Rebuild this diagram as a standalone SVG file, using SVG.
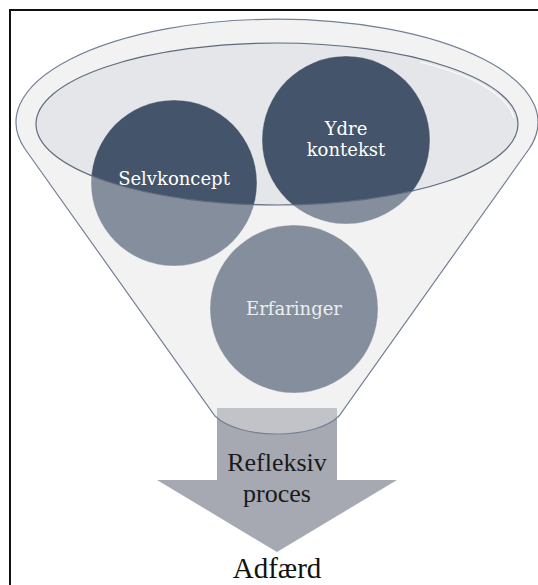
<svg xmlns="http://www.w3.org/2000/svg" width="538" height="585" viewBox="0 0 538 585">
  <style>
    .frame { stroke: #111111; stroke-width: 2; fill: none; }
    .funnel-base { fill: #f2f2f2; }
    .funnel-glass { fill: #f2f2f2; fill-opacity: 0.37; fill-rule: evenodd; }
    .funnel-line { fill: none; stroke: #748095; stroke-width: 1.2; }
    .mouth { fill: #e5e6e9; }
    .mouth-line { fill: none; stroke: #5f6a7c; stroke-width: 1.2; }
    .ball { fill: #44546a; stroke: #ffffff; stroke-opacity: 0.35; stroke-width: 1; }
    .ball-label { font-family: "DejaVu Serif", "Liberation Serif", serif; font-size: 18px; fill: #ffffff; text-anchor: middle; }
    .arrow { fill: #a6a9b1; }
    .arrow-label { font-family: "Liberation Serif", "DejaVu Serif", serif; font-size: 26px; fill: #1a1a1a; text-anchor: middle; }
    .out-label { font-family: "Liberation Serif", "DejaVu Serif", serif; font-size: 29px; fill: #111111; text-anchor: middle; }
  </style>
  <defs>
    <!-- funnel outline: wide rim on top, cone narrowing to a rounded neck -->
    <path id="funnelShape" d="M 25 149 A 261 103 0 1 1 529 149 L 339 416 C 315 440 239 440 215 416 Z"/>
  </defs>

  <rect x="0" y="0" width="538" height="585" fill="#ffffff"/>
  <path class="frame" d="M 9 10 L 538 10 M 10 9 L 10 585"/>

  <!-- funnel body behind everything -->
  <use href="#funnelShape" class="funnel-base"/>

  <!-- output arrow -->
  <g id="arrow">
    <polygon class="arrow" points="217,408 337,408 337,480 397,480 277,552 157,480 217,480"/>
  </g>

  <!-- funnel mouth -->
  <ellipse class="mouth" cx="277" cy="124" rx="241" ry="81"/>

  <g id="selvkoncept">
    <circle class="ball" cx="174" cy="183" r="83"/>
  </g>
  <g id="ydre-kontekst">
    <circle class="ball" cx="346" cy="140" r="84"/>
  </g>
  <g id="erfaringer">
    <circle class="ball" cx="294" cy="309" r="84"/>
  </g>

  <!-- translucent front wall of the funnel (everything outside the mouth) -->
  <path class="funnel-glass" d="M 25 149 A 261 103 0 1 1 529 149 L 339 416 C 315 440 239 440 215 416 Z M 36 124 A 241 81 0 1 0 518 124 A 241 81 0 1 0 36 124 Z"/>

  <!-- outlines -->
  <use href="#funnelShape" class="funnel-line"/>
  <ellipse class="mouth-line" cx="277" cy="124" rx="241" ry="81"/>
  <path d="M 420 62 A 238 78 0 0 1 514 118" fill="none" stroke="#ffffff" stroke-width="1.2" stroke-opacity="0.9"/>

  <!-- labels -->
  <text class="ball-label" x="174" y="185">Selvkoncept</text>
  <text class="ball-label" x="346" y="135">Ydre</text>
  <text class="ball-label" x="346" y="156">kontekst</text>
  <text class="ball-label" x="294" y="315" fill="#eceef2" style="fill:#eceef2">Erfaringer</text>
  <text class="arrow-label" x="277" y="471">Refleksiv</text>
  <text class="arrow-label" x="277" y="502">proces</text>
  <text class="out-label" x="277" y="578">Adfærd</text>
</svg>
